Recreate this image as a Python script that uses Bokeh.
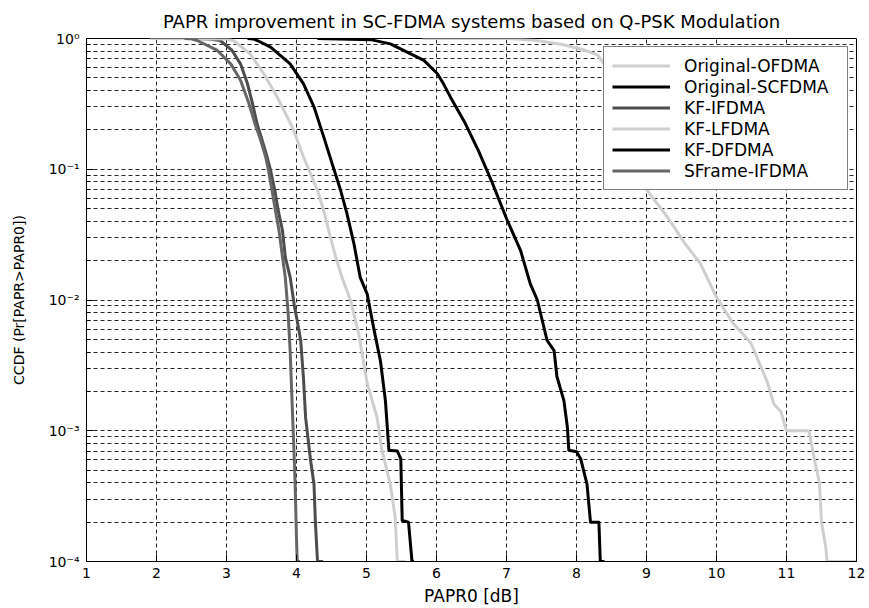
from bokeh.plotting import figure
from bokeh.models import Range1d, FixedTicker
from bokeh.embed import file_html
from bokeh.resources import INLINE

TITLE = "PAPR improvement in SC-FDMA systems based on Q-PSK Modulation"
X_LABEL = "PAPR0 [dB]"
Y_LABEL = "CCDF (Pr[PAPR>PAPR0])"

x_ticks = [1, 2, 3, 4, 5, 6, 7, 8, 9, 10, 11, 12]
y_ticks = [1e-4, 1e-3, 1e-2, 1e-1, 1.0]
y_tick_labels = ["10\u207b\u2074", "10\u207b\u00b3", "10\u207b\u00b2", "10\u207b\u00b9", "10\u2070"]
y_minor_ticks = [m * 10.0 ** e for e in (-4, -3, -2, -1) for m in (2, 3, 4, 5, 6, 7, 8, 9)]

names = ["Original-OFDMA", "Original-SCFDMA", "KF-IFDMA", "KF-LFDMA", "KF-DFDMA", "SFrame-IFDMA"]
colors = ["#cfcfcf", "#000000", "#4d4d4d", "#cfcfcf", "#000000", "#666666"]

ofdma_x = [5.8, 7.0, 7.4, 7.8, 8.1, 8.3, 8.6, 8.8, 9.0, 9.3, 9.55, 9.77, 10.0, 10.24, 10.49, 10.53,
           10.72, 10.82, 10.92, 11.0, 11.32, 11.4, 11.47, 11.5, 11.56, 11.58, 12.0]
ofdma_y = [1.0, 1.0, 0.97, 0.9, 0.82, 0.75, 0.45, 0.2, 0.07, 0.043, 0.027, 0.019, 0.0105, 0.0066, 0.0047, 0.0042,
           0.0024, 0.0016, 0.0014, 0.001, 0.001, 0.0006, 0.0004, 0.0002, 0.00013, 0.0001, 0.0001]

scfdma_x = [4.3, 5.06, 5.34, 5.53, 5.82, 6.01, 6.1, 6.2, 6.4, 6.6, 6.8, 7.0, 7.2, 7.34, 7.44, 7.58, 7.68,
            7.72, 7.82, 7.87, 7.89, 8.0, 8.06, 8.15, 8.2, 8.32, 8.34, 8.4]
scfdma_y = [1.0, 0.98, 0.91, 0.81, 0.68, 0.54, 0.45, 0.356, 0.23, 0.138, 0.078, 0.042, 0.024, 0.0133, 0.01,
            0.0049, 0.0041, 0.0026, 0.0017, 0.00106, 0.00071, 0.00069, 0.00061, 0.00039, 0.0002, 0.0002,
            0.0001, 0.0001]

kf_ifdma_x = [2.5, 2.75, 2.91, 3.08, 3.2, 3.3, 3.37, 3.44, 3.51, 3.58, 3.63, 3.69, 3.74, 3.8, 3.84, 3.91,
              3.97, 4.02, 4.06, 4.1, 4.13, 4.2, 4.25, 4.27, 4.3, 4.38]
kf_ifdma_y = [1.0, 0.99, 0.965, 0.81, 0.64, 0.45, 0.32, 0.22, 0.166, 0.124, 0.098, 0.069, 0.048, 0.034,
              0.0213, 0.0149, 0.009, 0.0065, 0.0049, 0.0025, 0.00126, 0.0006, 0.00039, 0.0002, 0.0001, 0.0001]

kf_lfdma_x = [1.9, 3.0, 3.1, 3.34, 3.53, 3.72, 3.87, 3.96, 4.1, 4.3, 4.39, 4.46, 4.56, 4.65, 4.77, 4.89,
              5.01, 5.15, 5.22, 5.34, 5.41, 5.44, 5.56]
kf_lfdma_y = [1.0, 0.99, 0.965, 0.76, 0.54, 0.36, 0.25, 0.198, 0.124, 0.069, 0.048, 0.034, 0.0213, 0.0149,
              0.01, 0.0055, 0.0023, 0.00127, 0.00071, 0.00039, 0.000217, 0.0001, 0.0001]

kf_dfdma_x = [3.3, 3.39, 3.44, 3.63, 3.91, 4.1, 4.25, 4.39, 4.51, 4.63, 4.72, 4.82, 4.91, 5.01, 5.1, 5.2,
              5.27, 5.32, 5.44, 5.49, 5.51, 5.6, 5.65, 5.68]
kf_dfdma_y = [1.0, 0.99, 0.965, 0.86, 0.64, 0.45, 0.30, 0.176, 0.11, 0.069, 0.046, 0.027, 0.0149, 0.0111,
              0.0062, 0.0034, 0.0017, 0.00071, 0.0007, 0.00061, 0.000206, 0.0002, 0.0001, 0.0001]

sframe_x = [2.4, 2.5, 2.58, 2.87, 3.06, 3.2, 3.32, 3.41, 3.49, 3.56, 3.6, 3.65, 3.7, 3.75, 3.8, 3.84,
            3.88, 3.91, 3.94, 3.96, 3.98, 4.0, 4.01, 4.05]
sframe_y = [1.0, 0.995, 0.965, 0.81, 0.64, 0.48, 0.32, 0.22, 0.166, 0.124, 0.098, 0.069, 0.048, 0.034,
            0.0213, 0.0149, 0.008, 0.004, 0.0015, 0.0008, 0.0004, 0.00015, 0.0001, 0.0001]

series_x = [ofdma_x, scfdma_x, kf_ifdma_x, kf_lfdma_x, kf_dfdma_x, sframe_x]
series_y = [ofdma_y, scfdma_y, kf_ifdma_y, kf_lfdma_y, kf_dfdma_y, sframe_y]

FONT = "DejaVu Sans"

p = figure(width=869, height=608, x_range=Range1d(1, 12), y_range=Range1d(1e-4, 1.0),
           y_axis_type="log", output_backend="svg", toolbar_location=None,
           min_border_left=86, min_border_right=13, min_border_top=38, min_border_bottom=47,
           title=TITLE)

p.background_fill_color = "white"
p.border_fill_color = "white"
p.outline_line_color = "black"
p.outline_line_width = 1

p.title.align = "center"
p.title.text_font = FONT
p.title.text_font_size = "18px"
p.title.text_font_style = "normal"
p.title.text_color = "black"
p.title.standoff = 14

xt = FixedTicker(ticks=x_ticks, minor_ticks=[])
yt = FixedTicker(ticks=y_ticks, minor_ticks=y_minor_ticks)
p.xaxis.ticker = xt
p.yaxis.ticker = yt
p.xgrid.ticker = xt
p.ygrid.ticker = yt

p.yaxis.major_label_overrides = {t: s for t, s in zip(y_ticks, y_tick_labels)}

for ax in (p.xaxis, p.yaxis):
    ax.axis_line_color = "black"
    ax.major_tick_line_color = "black"
    ax.minor_tick_line_color = "black"
    ax.major_tick_in = 7
    ax.major_tick_out = 0
    ax.minor_tick_in = 4
    ax.minor_tick_out = 0
    ax.major_label_text_font = FONT
    ax.major_label_text_font_size = "14px"
    ax.major_label_text_color = "black"
    ax.axis_label_text_font = FONT
    ax.axis_label_text_font_style = "normal"
    ax.axis_label_text_color = "black"

p.xaxis.axis_label = X_LABEL
p.yaxis.axis_label = Y_LABEL
p.xaxis.axis_label_text_font_size = "17px"
p.yaxis.axis_label_text_font_size = "14px"
p.xaxis.major_label_standoff = 6
p.xaxis.axis_label_standoff = 5
p.yaxis.major_label_standoff = 7
p.yaxis.axis_label_standoff = 19

for g in (p.xgrid, p.ygrid):
    g.grid_line_color = "black"
    g.grid_line_alpha = 0.85
    g.grid_line_dash = "4 3"
    g.grid_line_width = 1
p.ygrid.minor_grid_line_color = "black"
p.ygrid.minor_grid_line_alpha = 0.85
p.ygrid.minor_grid_line_dash = "4 3"
p.xgrid.minor_grid_line_color = None

for name, color, xs, ys in zip(names, colors, series_x, series_y):
    p.line(xs, ys, line_color=color, line_width=3, line_join="round", legend_label=name)

lg = p.legend[0]
lg.location = "top_right"
lg.margin = 8
lg.padding = 8
lg.spacing = 0
lg.glyph_width = 58
lg.glyph_height = 21
lg.label_height = 21
lg.label_width = 155
lg.label_standoff = 14
lg.label_text_font = FONT
lg.label_text_font_size = "17px"
lg.label_text_color = "black"
lg.border_line_color = "black"
lg.border_line_width = 1
lg.background_fill_color = "white"
lg.background_fill_alpha = 1.0

open("out.html", "w").write(file_html(p, INLINE))
